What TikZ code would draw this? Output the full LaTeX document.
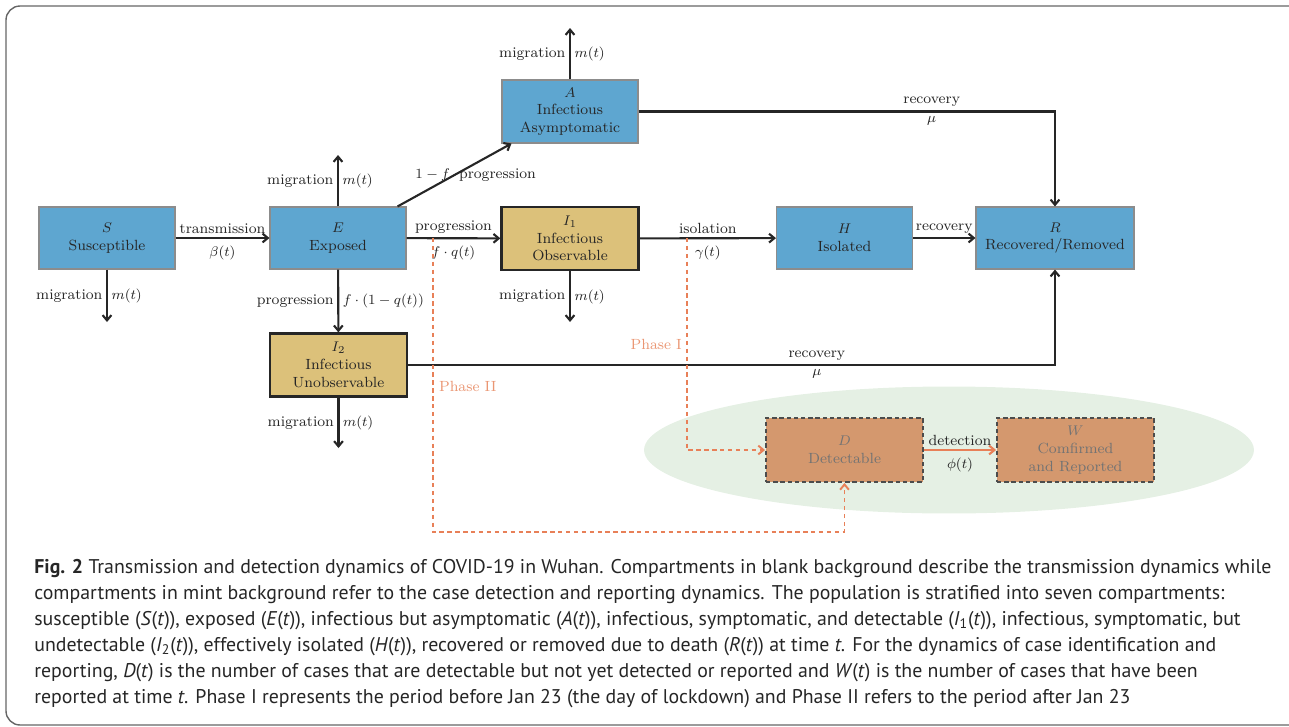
\documentclass[tikz,border=0pt]{standalone}
\usepackage{fontspec}
\usepackage{amsmath}
\newfontfamily\capfont{PT Sans}
\usetikzlibrary{arrows.meta, positioning, calc, shapes.geometric}
\newcommand{\boxsize}{\fontsize{8.4}{10.1}\selectfont}
\definecolor{boxblue}{RGB}{94,166,208}
\definecolor{boxgold}{RGB}{220,193,122}
\definecolor{boxorange}{RGB}{212,152,110}
\definecolor{mint}{RGB}{229,240,228}
\definecolor{phaseorange}{RGB}{232,128,88}
\definecolor{phasetext}{RGB}{234,150,115}
\tikzset{
	bluebox/.style={draw=black!45, fill=boxblue, text=black!85, line width=0.6pt, minimum width=2.72cm, minimum height=1.24cm, align=center, inner sep=1pt, font=\boxsize},
	goldbox/.style={draw=black!85, fill=boxgold, text=black!85, line width=1.3pt, minimum width=2.74cm, minimum height=1.26cm, align=center, inner sep=1pt, font=\boxsize},
	detbox/.style={draw=black!70, fill=boxorange, text=black!55, line width=1.1pt, dash pattern=on 2.5pt off 1.6pt, minimum width=3.14cm, minimum height=1.28cm, align=center, inner sep=1pt, font=\boxsize},
	flowarr/.style={-{Straight Barb[length=3pt,width=5pt]}, line width=1.2pt, draw=black!85},
	phasearr/.style={-{Straight Barb[length=3pt,width=5pt]}, line width=1.1pt, draw=phaseorange, dash pattern=on 2.5pt off 2pt},
	lbl/.style={font=\boxsize, text=black!85, inner sep=2pt},
	phaselbl/.style={font=\boxsize, text=phasetext, inner sep=1pt},
}

\begin{document}
\begin{tikzpicture}[x=0.02cm, y=-0.02cm]
	\useasboundingbox (0,0) rectangle (1289,727);
	\clip (0,0) rectangle (1289,727);
	\draw[black!60, line width=0.8pt, rounded corners=8pt] (6,6) rectangle (1310,725);
	% detection background
	\fill[mint] (949,450) ellipse [x radius=6.1cm, y radius=1.27cm];
	% transmission compartments
	\node[bluebox] (S) at (107,238) {$S$\\Susceptible};
	\node[bluebox] (E) at (338,238) {$E$\\Exposed};
	\node[bluebox, minimum height=1.26cm] (A) at (570,111.5) {$A$\\Infectious\\Asymptomatic};
	\node[goldbox] (I1) at (570,238.5) {$I_1$\\Infectious\\Observable};
	\node[bluebox] (H) at (844.5,238) {$H$\\Isolated};
	\node[bluebox, minimum width=3.16cm] (R) at (1055,238) {$R$\\Recovered/Removed};
	\node[goldbox] (I2) at (338.5,365) {$I_2$\\Infectious\\Unobservable};
	% detection compartments
	\node[detbox] (D) at (844.5,450) {$D$\\Detectable};
	\node[detbox] (W) at (1075.5,450) {$W$\\Comfirmed\\and Reported};
	% migration ends
	\coordinate (Sout) at (107,322);
	\coordinate (Eout) at (338,155);
	\coordinate (Aout) at (570,28);
	\coordinate (I1out) at (570,322);
	\coordinate (I2out) at (338.5,448);
	\foreach \src/\dst in {S/Sout, E/Eout, A/Aout, I1/I1out, I2/I2out}
		\draw[flowarr] (\src) -- node[lbl, left]{migration} node[lbl, right]{$m(t)$} (\dst);
	% flows
	\draw[flowarr] (S) -- node[lbl, above]{transmission} node[lbl, below=2pt]{$\beta(t)$} (E);
	\draw[flowarr] ($(E.north east)+(-9,0)$) -- node[lbl, left]{$1-f$} node[lbl, right]{progression} ($(A.south west)+(10,0)$);
	\draw[flowarr] (E) -- node[lbl, above]{progression} node[lbl, below=2pt]{$f\cdot q(t)$} (I1);
	\draw[flowarr] (E) -- node[lbl, left]{progression} node[lbl, right]{$f\cdot(1-q(t))$} (I2);
	\draw[flowarr] (I1) -- node[lbl, above]{isolation} node[lbl, below=2pt]{$\gamma(t)$} (H);
	\draw[flowarr] (H) -- node[lbl, above]{recovery} (R);
	\draw[flowarr] (A) -| node[lbl, above, pos=0.352]{recovery} node[lbl, below, pos=0.352]{$\mu$} (R);
	\draw[flowarr] (I2) -| node[lbl, above, pos=0.316]{recovery} node[lbl, below, pos=0.316]{$\mu$} (R);
	\draw[flowarr, draw=phaseorange] (D) -- node[lbl, above]{detection} node[lbl, below=2pt]{$\phi(t)$} (W);
	% phases
	\coordinate (phIsrc) at (687,238);
	\coordinate (phIIsrc) at (433,238);
	\draw[phasearr] (phIsrc) |- (D.west);
	\draw[phasearr] (phIIsrc) -- ++(0,294) -| (D.south);
	\node[phaselbl, anchor=east] (phI) at (684,344) {Phase I};
	\node[phaselbl, anchor=west] (phII) at (437,386) {Phase II};
	% caption
	\node[anchor=north west, align=left, inner sep=0, text=black!85, font=\capfont\fontsize{11.3}{14.8}\selectfont] (cap) at (34,559) {\textbf{Fig. 2} Transmission and detection dynamics of COVID-19 in Wuhan. Compartments in blank background describe the transmission dynamics while\\
compartments in mint background refer to the case detection and reporting dynamics. The population is stratified into seven compartments:\\
susceptible (\textit{S}(\textit{t})), exposed (\textit{E}(\textit{t})), infectious but asymptomatic (\textit{A}(\textit{t})), infectious, symptomatic, and detectable (\textit{I}\textsubscript{1}(\textit{t})), infectious, symptomatic, but\\
undetectable (\textit{I}\textsubscript{2}(\textit{t})), effectively isolated (\textit{H}(\textit{t})), recovered or removed due to death (\textit{R}(\textit{t})) at time \textit{t}. For the dynamics of case identification and\\
reporting, \textit{D}(\textit{t}) is the number of cases that are detectable but not yet detected or reported and \textit{W}(\textit{t}) is the number of cases that have been\\
reported at time \textit{t}. Phase I represents the period before Jan 23 (the day of lockdown) and Phase II refers to the period after Jan 23};
\end{tikzpicture}
\end{document}
